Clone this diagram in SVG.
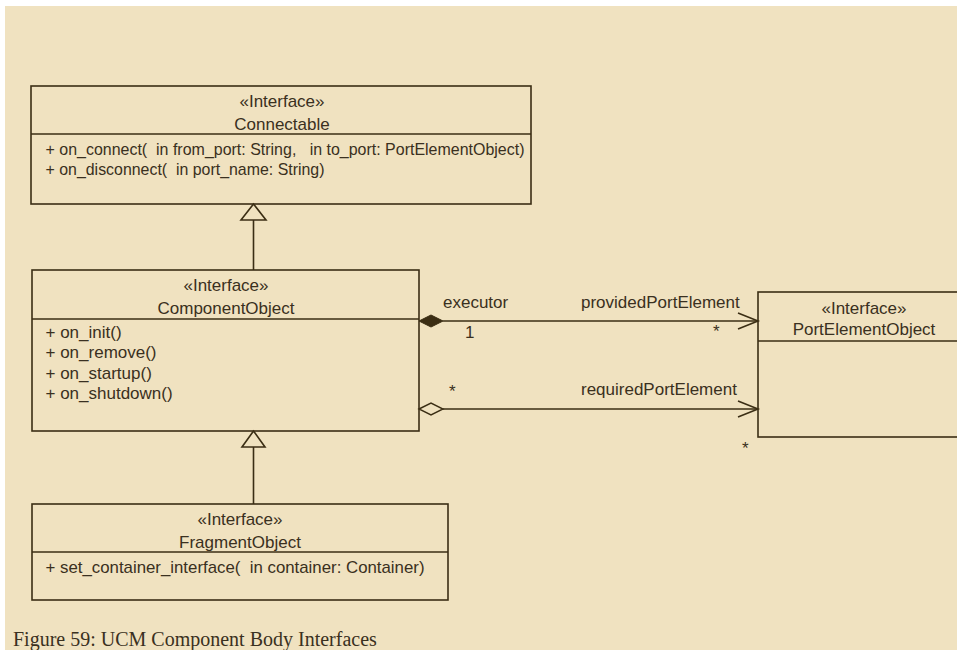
<svg xmlns="http://www.w3.org/2000/svg" width="957" height="650" viewBox="0 0 957 650">
<style>
.box{fill:none;stroke:#3b2e14;stroke-width:1.6}
.ln{fill:none;stroke:#3b2e14;stroke-width:1.6}
text{font-family:"Liberation Sans",Arial,sans-serif;font-size:17px;fill:#3a3020;white-space:pre}
.c{text-anchor:middle}
.cap{font-family:"Liberation Serif","Times New Roman",serif;font-size:20px}
</style>
<rect x="0" y="0" width="957" height="650" fill="#ffffff"/>
<rect x="5" y="6" width="952" height="644" fill="#f0e2c0"/>
<g id="Connectable">
<rect class="box" x="31" y="86" width="500" height="118"/>
<line class="ln" x1="31" y1="134" x2="531" y2="134"/>
<text class="c" x="282" y="107">«Interface»</text>
<text class="c" x="282" y="130">Connectable</text>
<text x="45.5" y="155" textLength="479" lengthAdjust="spacingAndGlyphs">+ on_connect(  in from_port: String,   in to_port: PortElementObject)</text>
<text x="45.5" y="175" textLength="279" lengthAdjust="spacingAndGlyphs">+ on_disconnect(  in port_name: String)</text>
</g>
<g id="ComponentObject">
<rect class="box" x="32" y="270" width="387" height="161"/>
<line class="ln" x1="32" y1="319" x2="419" y2="319"/>
<text class="c" x="226" y="291">«Interface»</text>
<text class="c" x="226" y="314">ComponentObject</text>
<text x="45.5" y="338">+ on_init()</text>
<text x="45.5" y="358">+ on_remove()</text>
<text x="45.5" y="379">+ on_startup()</text>
<text x="45.5" y="399">+ on_shutdown()</text>
</g>
<g id="FragmentObject">
<rect class="box" x="32" y="504" width="416" height="96"/>
<line class="ln" x1="32" y1="552" x2="448" y2="552"/>
<text class="c" x="240" y="525">«Interface»</text>
<text class="c" x="240" y="548">FragmentObject</text>
<text x="45.5" y="573" textLength="379" lengthAdjust="spacingAndGlyphs">+ set_container_interface(  in container: Container)</text>
</g>
<g id="PortElementObject">
<rect class="box" x="758" y="292" width="212" height="145"/>
<line class="ln" x1="758" y1="341" x2="970" y2="341"/>
<text class="c" x="864" y="314">«Interface»</text>
<text class="c" x="864" y="335">PortElementObject</text>
</g>
<g id="connectors">
<line class="ln" x1="253.5" y1="220" x2="253.5" y2="270"/>
<polygon class="ln" points="253.5,204 241,220 266,220"/>
<line class="ln" x1="253.5" y1="447" x2="253.5" y2="504"/>
<polygon class="ln" points="253.5,431 242,447 265,447"/>
<line class="ln" x1="443" y1="321" x2="758" y2="321"/>
<polygon points="419,321 431,315 443,321 431,327" fill="#3b2e14" stroke="#3b2e14" stroke-width="1"/>
<polyline class="ln" points="738,313 758,321 738,329"/>
<line class="ln" x1="443" y1="409" x2="758" y2="409"/>
<polygon points="419,409 431,403 443,409 431,415" fill="#f0e2c0" stroke="#3b2e14" stroke-width="1.4"/>
<polyline class="ln" points="738,401 758,409 738,417"/>
<text x="443" y="308">executor</text>
<text x="581" y="308">providedPortElement</text>
<text x="465" y="338">1</text>
<text x="713" y="337">*</text>
<text x="449" y="397">*</text>
<text x="581" y="395">requiredPortElement</text>
<text x="742" y="454">*</text>
</g>
<text class="cap" x="13" y="646">Figure 59: UCM Component Body Interfaces</text>
</svg>
